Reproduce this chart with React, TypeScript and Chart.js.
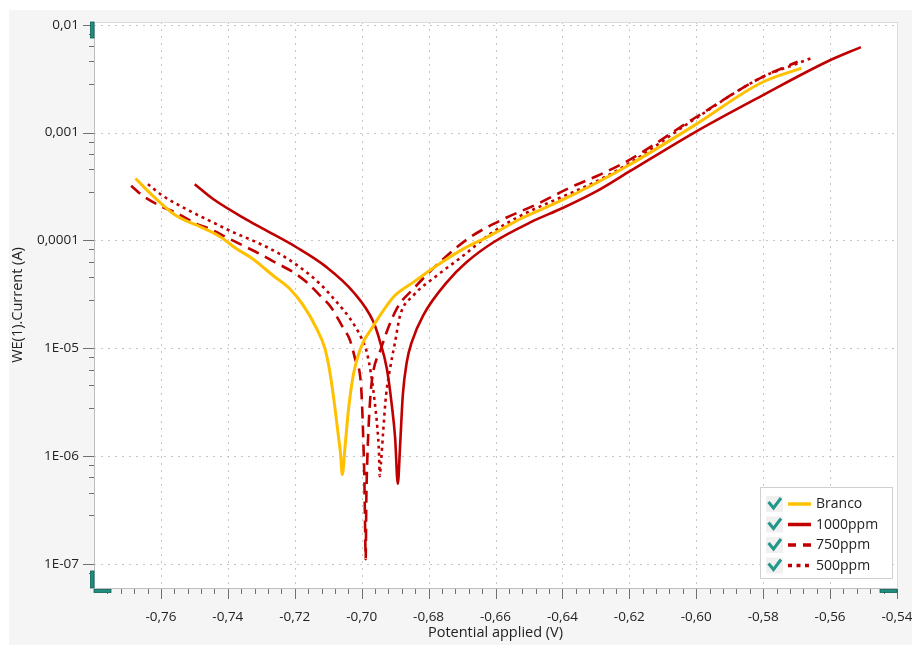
import { useEffect, useRef } from "react";
import { Chart, registerables } from "chart.js";

Chart.register(...registerables);

// ---- data (potential V, current A) ----
const brancoV = [-0.7676, -0.7624, -0.7554, -0.7494, -0.7424, -0.7374, -0.7325, -0.7265, -0.7215, -0.7175, -0.7135, -0.7110, -0.7096, -0.7085, -0.7070, -0.7063, -0.7058, -0.7050, -0.7040, -0.7025, -0.7010, -0.6995, -0.6970, -0.6945, -0.6905, -0.6845, -0.6775, -0.6696, -0.6616, -0.6526, -0.6416, -0.6306, -0.6197, -0.6007, -0.5807, -0.5686];
const brancoI = [3.75e-4, 2.59e-4, 1.69e-4, 1.39e-4, 1.09e-4, 8.36e-5, 6.74e-5, 4.73e-5, 3.57e-5, 2.51e-5, 1.53e-5, 9.97e-6, 6.25e-6, 3.7e-6, 1.58e-6, 1.04e-6, 6.76e-7, 1.19e-6, 2.6e-6, 5.66e-6, 8.65e-6, 1.15e-5, 1.53e-5, 2.02e-5, 2.99e-5, 4.11e-5, 5.86e-5, 8.36e-5, 1.11e-4, 1.58e-4, 2.25e-4, 3.32e-4, 5.08e-4, 1.16e-3, 2.88e-3, 3.96e-3];

const ppm1000V = [-0.7499, -0.7444, -0.7344, -0.7275, -0.7195, -0.7105, -0.7025, -0.6965, -0.6945, -0.6925, -0.6910, -0.6900, -0.6892, -0.6885, -0.6877, -0.6865, -0.6850, -0.6816, -0.6745, -0.6686, -0.6606, -0.6496, -0.6396, -0.6296, -0.6197, -0.6007, -0.5807, -0.5608, -0.5508];
const ppm1000I = [3.32e-4, 2.42e-4, 1.56e-4, 1.19e-4, 8.65e-5, 5.66e-5, 3.33e-5, 1.76e-5, 1.15e-5, 6.53e-6, 2.99e-6, 1.48e-6, 5.55e-7, 1.28e-6, 3.7e-6, 7.52e-6, 1.15e-5, 2.02e-5, 4.11e-5, 6.3e-5, 9.62e-5, 1.47e-4, 2.02e-4, 2.88e-4, 4.41e-4, 9.96e-4, 2.17e-3, 4.56e-3, 6.19e-3];

const ppm750V = [-0.7689, -0.7654, -0.7599, -0.7554, -0.7499, -0.7454, -0.7399, -0.7354, -0.7304, -0.7260, -0.7205, -0.7165, -0.7125, -0.7090, -0.7060, -0.7035, -0.7020, -0.7002, -0.6998, -0.6995, -0.6992, -0.6990, -0.6988, -0.6986, -0.6983, -0.6978, -0.6971, -0.6942, -0.6895, -0.6845, -0.6756, -0.6676, -0.6576, -0.6476, -0.6376, -0.6286, -0.6197, -0.6007, -0.5807, -0.5697];
const ppm750I = [3.21e-4, 2.59e-4, 2.07e-4, 1.8e-4, 1.45e-4, 1.28e-4, 1.05e-4, 8.95e-5, 7.5e-5, 6.3e-5, 5.09e-5, 4.11e-5, 3.1e-5, 2.37e-5, 1.64e-5, 1.19e-5, 8.07e-6, 4.58e-6, 2.6e-6, 1.37e-6, 6.31e-7, 2.51e-7, 1.11e-7, 4.12e-7, 9.64e-7, 2.26e-6, 4.55e-6, 9.97e-6, 2.33e-5, 3.57e-5, 6.74e-5, 1.07e-4, 1.58e-4, 2.17e-4, 3.1e-4, 4.1e-4, 5.65e-4, 1.35e-3, 3.22e-3, 4.53e-3];

const ppm500V = [-0.7639, -0.7594, -0.7524, -0.7454, -0.7394, -0.7325, -0.7254, -0.7185, -0.7125, -0.7075, -0.7035, -0.7000, -0.6985, -0.6970, -0.6960, -0.6953, -0.6948, -0.6946, -0.6942, -0.6935, -0.6927, -0.6915, -0.6900, -0.6885, -0.6845, -0.6775, -0.6696, -0.6616, -0.6526, -0.6416, -0.6306, -0.6197, -0.6007, -0.5807, -0.5708, -0.5648];
const ppm500I = [3.32e-4, 2.59e-4, 1.95e-4, 1.52e-4, 1.23e-4, 9.95e-5, 7.78e-5, 5.66e-5, 3.97e-5, 2.69e-5, 1.89e-5, 1.23e-5, 9.31e-6, 5.27e-6, 2.99e-6, 1.82e-6, 1.04e-6, 6.53e-7, 9.0e-7, 1.82e-6, 3.7e-6, 6.53e-6, 1.15e-5, 2.02e-5, 3.1e-5, 4.73e-5, 7.24e-5, 1.15e-4, 1.69e-4, 2.42e-4, 3.44e-4, 5.26e-4, 1.32e-3, 3.22e-3, 4.25e-3, 5.0e-3];

const seriesNames = ["Branco", "1000ppm", "750ppm", "500ppm"];

// ---- axes ----
const xMin = -0.78;
const xMax = -0.54;
const xTicks = [-0.76, -0.74, -0.72, -0.7, -0.68, -0.66, -0.64, -0.62, -0.6, -0.58, -0.56, -0.54];
const xTickLabels = ["-0,76", "-0,74", "-0,72", "-0,70", "-0,68", "-0,66", "-0,64", "-0,62", "-0,60", "-0,58", "-0,56", "-0,54"];
const xMinorStep = 0.004;
const yMin = Math.pow(10, -7.196);
const yMax = Math.pow(10, -1.975);
const yTicks = [1e-7, 1e-6, 1e-5, 1e-4, 1e-3, 1e-2];
const yTickLabels = ["1E-07", "1E-06", "1E-05", "0,0001", "0,001", "0,01"];
const yMinorFactors = [0.826, 0.635, 0.458, 0.282];

const YELLOW = "#FFC000";
const RED = "#C00000";
const TEAL = "#1d8f80";
const FONT = "'Open Sans', 'Noto Sans', sans-serif";

function pts(xs: number[], ys: number[]) {
  return xs.map((x, i) => ({ x, y: ys[i] }));
}

const decorPlugin = {
  id: "decor",
  beforeDraw(chart: any) {
    const { ctx, chartArea: a, scales } = chart;
    const x = scales.x;
    const y = scales.y;
    ctx.save();
    ctx.fillStyle = "#ffffff";
    ctx.fillRect(0, 0, chart.width, chart.height);
    ctx.fillStyle = "#f5f5f5";
    ctx.fillRect(9, 10, chart.width - 9, chart.height - 10);
    ctx.fillStyle = "#ffffff";
    ctx.fillRect(a.left, a.top, a.right - a.left, a.bottom - a.top);
    // dotted grid
    ctx.strokeStyle = "#c6c6c6";
    ctx.lineWidth = 1;
    ctx.setLineDash([2, 5]);
    for (const v of xTicks) {
      const px = Math.round(x.getPixelForValue(v)) + 0.5;
      ctx.beginPath();
      ctx.moveTo(px, a.top);
      ctx.lineTo(px, a.bottom);
      ctx.stroke();
    }
    for (const v of yTicks) {
      const py = Math.round(y.getPixelForValue(v)) + 0.5;
      ctx.beginPath();
      ctx.moveTo(a.left, py);
      ctx.lineTo(a.right, py);
      ctx.stroke();
    }
    ctx.restore();
  },
  afterDatasetsDraw(chart: any) {
    const { ctx, chartArea: a, scales } = chart;
    const x = scales.x;
    const y = scales.y;
    ctx.save();
    ctx.setLineDash([]);
    // borders
    ctx.lineWidth = 1;
    ctx.strokeStyle = "#dcdcdc";
    ctx.beginPath();
    ctx.moveTo(a.left, a.top + 0.5);
    ctx.lineTo(a.right + 0.5, a.top + 0.5);
    ctx.lineTo(a.right + 0.5, a.bottom);
    ctx.stroke();
    ctx.strokeStyle = "#bdbdbd";
    ctx.beginPath();
    ctx.moveTo(a.left + 0.5, a.top);
    ctx.lineTo(a.left + 0.5, a.bottom + 0.5);
    ctx.lineTo(a.right + 0.5, a.bottom + 0.5);
    ctx.stroke();
    // tick marks
    ctx.strokeStyle = "#707070";
    ctx.beginPath();
    for (const v of yTicks) {
      const py = Math.round(y.getPixelForValue(v)) + 0.5;
      ctx.moveTo(a.left - 11, py);
      ctx.lineTo(a.left, py);
      for (const f of yMinorFactors) {
        const mv = v * f;
        if (mv < yMin) continue;
        const my = Math.round(y.getPixelForValue(mv)) + 0.5;
        ctx.moveTo(a.left - 5, my);
        ctx.lineTo(a.left, my);
      }
    }
    for (const v of xTicks) {
      const px = Math.round(x.getPixelForValue(v)) + 0.5;
      ctx.moveTo(px, a.bottom + 1);
      ctx.lineTo(px, a.bottom + 11);
    }
    const n = Math.round((xMax - xMin) / xMinorStep);
    for (let k = 1; k < n; k++) {
      if (k % 5 === 0) continue;
      const px = Math.round(x.getPixelForValue(xMin + k * xMinorStep)) + 0.5;
      ctx.moveTo(px, a.bottom + 1);
      ctx.lineTo(px, a.bottom + 6);
    }
    ctx.stroke();
    // teal handles
    ctx.fillStyle = TEAL;
    ctx.strokeStyle = "#0f5f55";
    ctx.lineWidth = 0.8;
    const rects = [
      [a.left - 3.5, a.top, 3.5, 16],
      [a.left - 3.5, a.bottom - 17, 3.5, 17],
      [a.left, a.bottom + 1.5, 17, 3],
      [a.right - 17, a.bottom + 1.5, 17, 3],
    ];
    for (const r of rects) {
      ctx.fillRect(r[0], r[1], r[2], r[3]);
      ctx.strokeRect(r[0], r[1], r[2], r[3]);
    }
    // legend
    const lx = 760.5;
    const ly = 487.5;
    const lw = 132;
    const lh = 91;
    ctx.fillStyle = "#ffffff";
    ctx.fillRect(lx, ly, lw, lh);
    ctx.strokeStyle = "#d0d0d0";
    ctx.lineWidth = 1;
    ctx.strokeRect(lx, ly, lw, lh);
    const ds = chart.data.datasets;
    const rowY = [504, 524.5, 545, 565.5];
    const legendDash = [[], [], [8, 7], [4, 4.5]];
    ds.forEach((d: any, i: number) => {
      const cy = rowY[i];
      ctx.fillStyle = "#f0f0f0";
      ctx.fillRect(766, cy - 8, 17, 16);
      ctx.strokeStyle = "#23978a";
      ctx.lineWidth = 3;
      ctx.setLineDash([]);
      ctx.beginPath();
      ctx.moveTo(768.5, cy - 2);
      ctx.lineTo(773.5, cy + 4);
      ctx.lineTo(781, cy - 6);
      ctx.stroke();
      ctx.strokeStyle = d.borderColor;
      ctx.lineWidth = 3.5;
      ctx.setLineDash(legendDash[i]);
      ctx.beginPath();
      ctx.moveTo(788, cy);
      ctx.lineTo(811, cy);
      ctx.stroke();
      ctx.setLineDash([]);
      ctx.fillStyle = "#222222";
      ctx.font = "14px " + FONT;
      ctx.textBaseline = "middle";
      ctx.textAlign = "left";
      ctx.fillText(d.label, 816, cy + 0.5);
    });
    ctx.restore();
  },
};

export default function App() {
  const ref = useRef<HTMLCanvasElement | null>(null);
  useEffect(() => {
    if (!ref.current) return;
    const chart = new Chart(ref.current, {
      type: "line",
      data: {
        datasets: [
          { label: seriesNames[0], data: pts(brancoV, brancoI), borderColor: YELLOW, borderWidth: 3 },
          { label: seriesNames[1], data: pts(ppm1000V, ppm1000I), borderColor: RED, borderWidth: 2.6 },
          { label: seriesNames[2], data: pts(ppm750V, ppm750I), borderColor: RED, borderWidth: 2.6, borderDash: [12, 7] },
          { label: seriesNames[3], data: pts(ppm500V, ppm500I), borderColor: RED, borderWidth: 2.6, borderDash: [3, 4] },
        ].map((d) => ({ ...d, pointRadius: 0, fill: false, cubicInterpolationMode: "monotone" as const })),
      },
      options: {
        responsive: false,
        animation: false,
        layout: { padding: { top: 22, right: 15, left: 0, bottom: 0 } },
        plugins: { legend: { display: false }, tooltip: { enabled: false } },
        scales: {
          x: {
            type: "linear",
            min: xMin,
            max: xMax,
            grid: { display: false, drawTicks: false },
            border: { display: false },
            afterBuildTicks: (s: any) => {
              s.ticks = xTicks.map((v) => ({ value: v }));
            },
            afterFit: (s: any) => {
              s.height = 57;
              s.paddingLeft = 0;
              s.paddingRight = 0;
            },
            ticks: {
              autoSkip: false,
              maxRotation: 0,
              padding: 21,
              color: "#222222",
              font: { family: FONT, size: 13.5 },
              callback: (_v: any, i: number) => xTickLabels[i],
            },
            title: {
              display: true,
              text: "Potential applied (V)",
              color: "#222222",
              font: { family: FONT, size: 14.5 },
              padding: { top: 0, bottom: 3 },
            },
          },
          y: {
            type: "logarithmic",
            min: yMin,
            max: yMax,
            grid: { display: false, drawTicks: false },
            border: { display: false },
            afterBuildTicks: (s: any) => {
              s.ticks = yTicks.map((v) => ({ value: v }));
            },
            afterFit: (s: any) => {
              s.width = 94;
              s.paddingTop = 0;
              s.paddingBottom = 0;
            },
            ticks: {
              autoSkip: false,
              padding: 15,
              color: "#222222",
              font: { family: FONT, size: 13.5 },
              callback: (_v: any, i: number) => yTickLabels[i],
            },
            title: {
              display: true,
              text: "WE(1).Current (A)",
              color: "#222222",
              font: { family: FONT, size: 14.5 },
              padding: { top: 9, bottom: 0 },
            },
          },
        },
      },
      plugins: [decorPlugin],
    });
    return () => chart.destroy();
  }, []);
  return (
    <div style={{ position: "fixed", left: 0, top: 0, width: 912, height: 645 }}>
      <canvas ref={ref} width={912} height={645} style={{ display: "block", width: 912, height: 645 }} />
    </div>
  );
}
